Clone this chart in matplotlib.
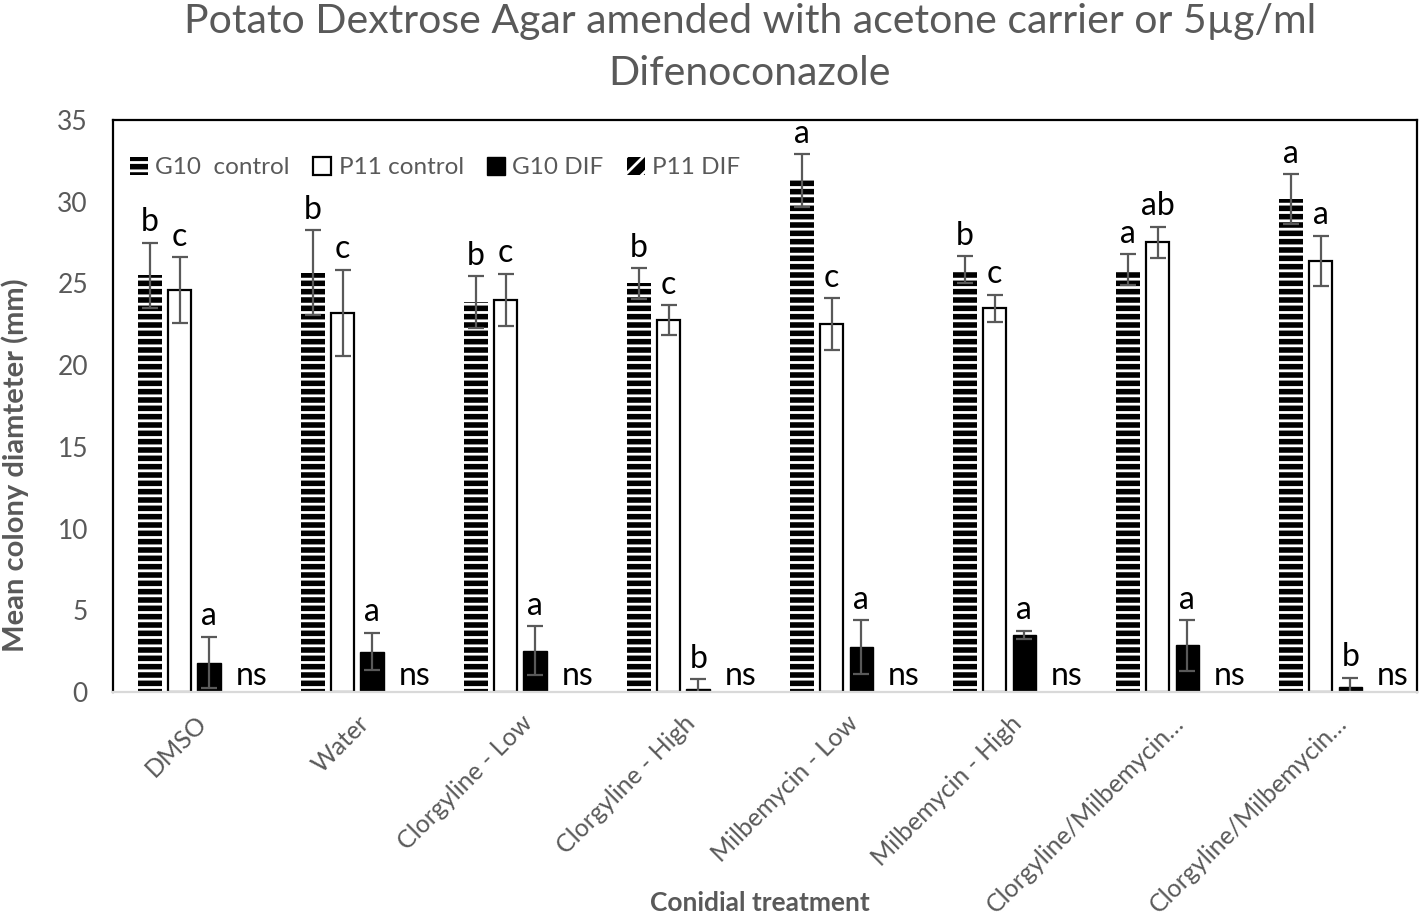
import numpy as np
import matplotlib.pyplot as plt

plt.rcParams['font.family'] = ['Lato', 'DejaVu Sans']
plt.rcParams['hatch.linewidth'] = 2.0

### data
treatments = ['DMSO', 'Water', 'Clorgyline - Low', 'Clorgyline - High',
              'Milbemycin - Low', 'Milbemycin - High',
              'Clorgyline/Milbemycin\u2026', 'Clorgyline/Milbemycin\u2026']
series = ['G10  control', 'P11 control', 'G10 DIF', 'P11 DIF']

g10_ctrl = [25.5, 25.65, 23.85, 25.0, 31.3, 25.85, 25.85, 30.15]
g10_ctrl_err = [2.0, 2.6, 1.6, 0.93, 1.6, 0.82, 0.94, 1.53]
p11_ctrl = [24.6, 23.2, 24.0, 22.75, 22.5, 23.48, 27.53, 26.39]
p11_ctrl_err = [2.0, 2.65, 1.6, 0.93, 1.58, 0.84, 0.95, 1.52]
g10_dif = [1.8, 2.47, 2.53, 0.17, 2.75, 3.49, 2.85, 0.28]
g10_dif_err = [1.57, 1.15, 1.5, 0.6, 1.63, 0.25, 1.55, 0.6]
p11_dif = [0, 0, 0, 0, 0, 0, 0, 0]
p11_dif_err = [0, 0, 0, 0, 0, 0, 0, 0]

g10_ctrl_let = ['b', 'b', 'b', 'b', 'a', 'b', 'a', 'a']
p11_ctrl_let = ['c', 'c', 'c', 'c', 'c', 'c', 'ab', 'a']
g10_dif_let = ['a', 'a', 'a', 'b', 'a', 'a', 'a', 'b']
p11_dif_let = ['ns'] * 8

grey = '#595959'

fig = plt.figure(figsize=(14.19, 9.15), dpi=100)
ax = fig.add_axes([0.0796, 0.2437, 0.9190, 0.6252])

x = np.arange(len(treatments))
step = 0.182
w = 0.145
ekw = dict(ecolor=grey, elinewidth=1.6, capsize=5.5, capthick=1.6)

vals = [g10_ctrl, p11_ctrl, g10_dif, p11_dif]
errs = [g10_ctrl_err, p11_ctrl_err, g10_dif_err, p11_dif_err]
lets = [g10_ctrl_let, p11_ctrl_let, g10_dif_let, p11_dif_let]
# black bars with white hatch (hatch takes the edge colour, edge itself not drawn)
styles = [dict(color='black', edgecolor='white', linewidth=0, hatch='--'),
          dict(color='white', edgecolor='black', linewidth=1.6),
          dict(color='black', edgecolor='black', linewidth=1.0),
          dict(color='black', edgecolor='white', linewidth=0, hatch='//')]

for i in range(4):
    pos = x + (i - 1.5) * step
    v = np.array(vals[i])
    e = np.array(errs[i])
    if i < 3:
        ax.bar(pos, v, w, yerr=e, error_kw=ekw, label=series[i], **styles[i])
    else:
        ax.bar(pos, v, w, label=series[i], **styles[i])
    for k in range(len(x)):
        if lets[i][k] == 'ns':
            ax.text(pos[k] + 0.075, v[k] + 0.4, 'ns', ha='center',
                    va='baseline', fontsize=23, color='black')
        else:
            ax.text(pos[k], v[k] + e[k] + 0.7, lets[i][k], ha='center',
                    va='baseline', fontsize=23, color='black')

ax.set_xlim(-0.5, len(treatments) - 0.5)
ax.set_ylim(0, 35)
ax.set_yticks(range(0, 36, 5))
ax.set_xticks(x)
ax.set_xticklabels(treatments, rotation=45, ha='right', va='top',
                   rotation_mode='anchor')
ax.tick_params(axis='both', length=0, labelcolor=grey)
ax.tick_params(axis='y', pad=18, labelsize=19)
ax.tick_params(axis='x', pad=14, labelsize=18)

for s in ['left', 'top', 'right']:
    ax.spines[s].set_color('black')
    ax.spines[s].set_linewidth(1.6)
ax.spines['bottom'].set_color('#d9d9d9')
ax.spines['bottom'].set_linewidth(1.6)

leg = ax.legend(loc='upper left', bbox_to_anchor=(0.0, 0.965), ncol=4,
                frameon=False, fontsize=17.5, handlelength=0.75,
                handleheight=0.75, handletextpad=0.3, columnspacing=0.95,
                borderaxespad=0.3)
for t in leg.get_texts():
    t.set_color(grey)

fig.text(0.5285, 0.997, 'Potato Dextrose Agar amended with acetone carrier or 5\u00b5g/ml\nDifenoconazole',
         ha='center', va='top', fontsize=29.5, color=grey, linespacing=1.5)
fig.text(0.011, 1 - 465 / 915, 'Mean colony diamteter (mm)', rotation=90,
         ha='center', va='center', fontsize=21, fontweight='bold', color=grey)
fig.text(0.5356, 1 - 903 / 915, 'Conidial treatment', ha='center', va='center',
         fontsize=19, fontweight='bold', color=grey)

plt.savefig('out.png', dpi=100)
